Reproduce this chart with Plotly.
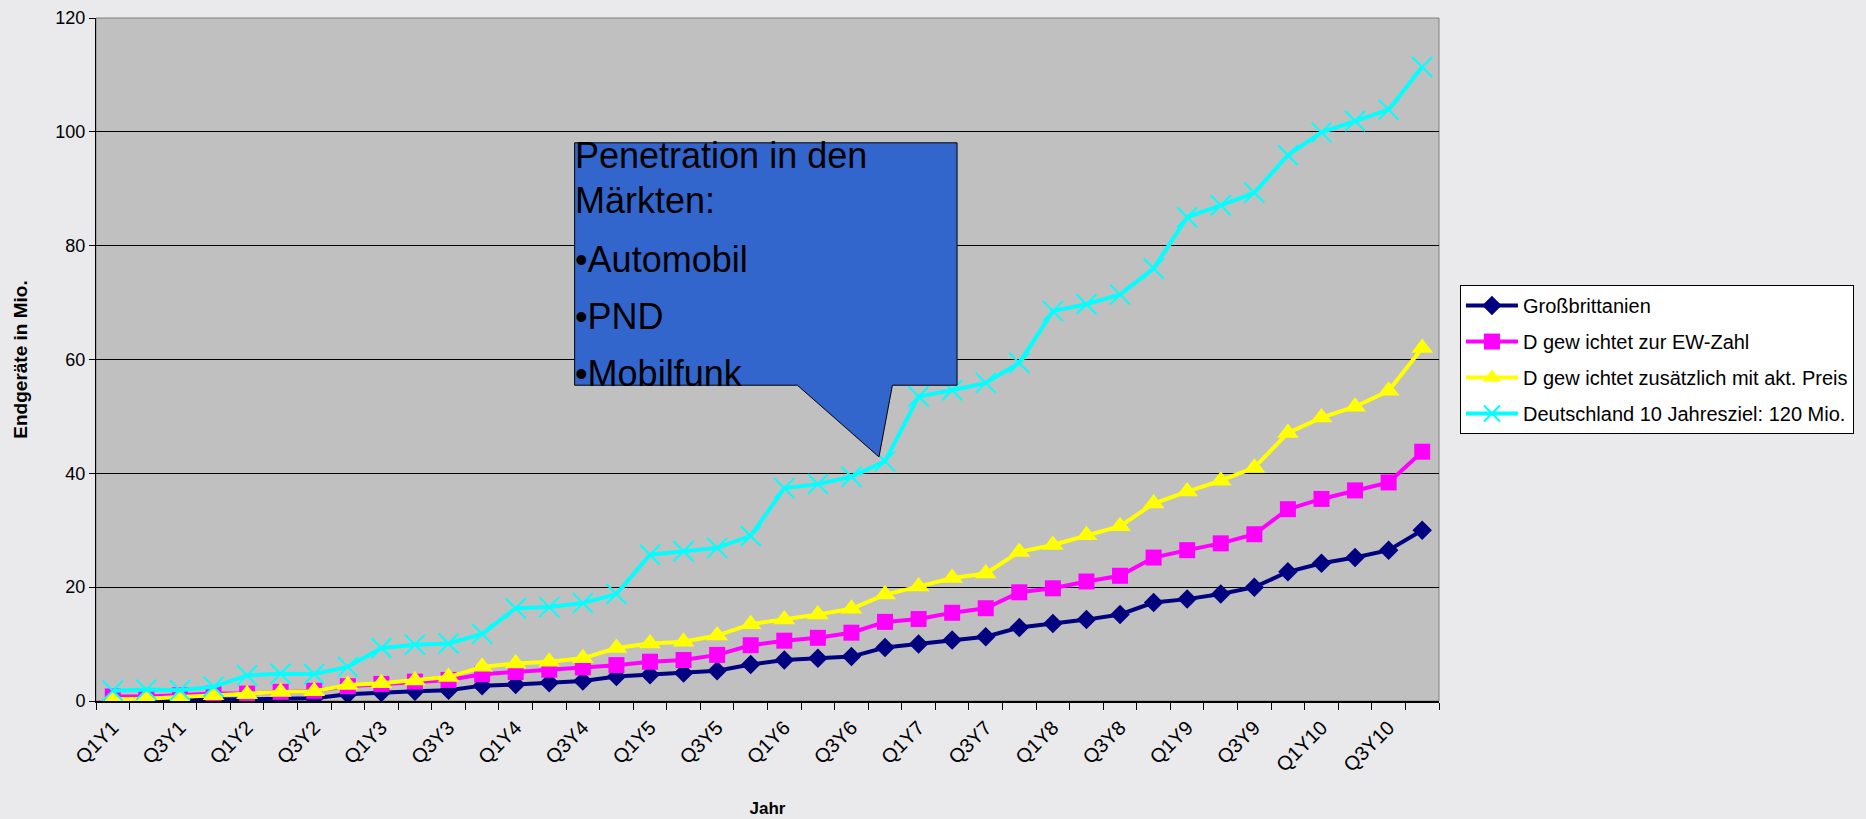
import plotly.graph_objects as go

quarters = [f"Q{q}Y{y}" for y in range(1, 11) for q in range(1, 5)]
tick_labels = [q if i % 2 == 0 else "" for i, q in enumerate(quarters)]

gb = [0.2, 0.2, 0.2, 0.3, 0.3, 0.4, 0.5, 1.2, 1.5, 1.7, 1.9, 2.7, 2.9, 3.2, 3.5, 4.3, 4.6, 4.9, 5.3, 6.4,
      7.2, 7.5, 7.8, 9.4, 10.0, 10.7, 11.3, 12.9, 13.6, 14.3, 15.2, 17.3, 17.9, 18.8, 20.0, 22.7, 24.2, 25.2, 26.5, 30.0]
d_ew = [0.8, 0.8, 1.0, 1.3, 1.3, 1.6, 1.8, 2.6, 3.0, 3.4, 3.7, 4.7, 5.1, 5.5, 5.9, 6.3, 6.9, 7.2, 8.1, 9.8,
        10.6, 11.1, 12.0, 13.9, 14.4, 15.5, 16.3, 19.1, 19.8, 21.0, 22.0, 25.2, 26.5, 27.7, 29.3, 33.7, 35.5, 37.0, 38.4, 43.8]
d_preis = [0.3, 0.4, 0.7, 1.0, 1.2, 1.6, 1.7, 2.8, 3.1, 3.6, 4.2, 6.0, 6.6, 6.9, 7.5, 9.3, 10.1, 10.4, 11.5, 13.5,
           14.3, 15.2, 16.2, 18.7, 20.1, 21.6, 22.4, 26.2, 27.4, 29.1, 30.7, 34.7, 36.8, 38.7, 41.0, 47.1, 49.8, 51.7, 54.5, 62.0]
de_ziel = [1.8, 2.0, 1.9, 2.5, 4.5, 4.8, 4.75, 6.0, 9.3, 9.9, 10.1, 11.8, 16.3, 16.5, 17.2, 18.8, 25.7, 26.3, 26.9, 29.0,
           37.4, 38.1, 39.4, 42.1, 53.5, 54.6, 55.9, 59.4, 68.5, 69.7, 71.4, 76.0, 85.0, 87.1, 89.3, 95.9, 99.9, 101.9, 103.9, 111.4]

series_names = ["Großbrittanien", "D gew ichtet zur EW-Zahl",
                "D gew ichtet zusätzlich mit akt. Preis", "Deutschland 10 Jahresziel: 120 Mio."]
callout_lines = ["Penetration in den", "Märkten:", "•Automobil", "•PND", "•Mobilfunk"]

FONT = "Liberation Sans, Arial, sans-serif"

fig = go.Figure()
styles = [
    dict(color="#000080", symbol="diamond", size=15),
    dict(color="#FF00FF", symbol="square", size=16),
    dict(color="#FFFF00", symbol="triangle-up", size=19),
    dict(color="#00FFFF", symbol="x-thin", size=20),
]
for name, vals, st in zip(series_names, [gb, d_ew, d_preis, de_ziel], styles):
    marker = dict(color=st["color"], symbol=st["symbol"], size=st["size"])
    if st["symbol"] == "x-thin":
        marker["line"] = dict(color=st["color"], width=2)
    else:
        marker["line"] = dict(width=0)
    fig.add_trace(go.Scatter(
        x=quarters, y=vals, name=name, mode="lines+markers",
        line=dict(color=st["color"], width=4), marker=marker,
        legendgroup=name,
    ))

# callout (wedge rectangle) in data coordinates
bx0, bx1, by0, by1 = 13.756, 25.146, 55.48, 98.07
wl, wr, tipx, tipy = 20.39, 23.22, 22.82, 42.88
path = (f"M {bx0},{by1} L {bx1},{by1} L {bx1},{by0} L {wr},{by0} L {tipx},{tipy} "
        f"L {wl},{by0} L {bx0},{by0} Z")
shapes = [
    dict(type="rect", xref="paper", yref="paper", x0=0, x1=1, y0=0, y1=1,
         line=dict(color="#808080", width=1), layer="below"),
    dict(type="path", path=path, xref="x", yref="y", fillcolor="#3366CC",
         line=dict(color="#000000", width=1), layer="above"),
]
line_y = [95.9, 88.0, 77.5, 67.5, 57.6]
annotations = []
for txt, yy in zip(callout_lines, line_y):
    annotations.append(dict(x=13.72, y=yy, xref="x", yref="y", text=txt, showarrow=False,
                            xanchor="left", yanchor="middle",
                            font=dict(family=FONT, size=36, color="#000000")))

fig.update_layout(
    width=1866, height=819,
    margin=dict(l=96, r=424, t=18, b=118),
    paper_bgcolor="#EAEAEC", plot_bgcolor="#C0C0C0",
    font=dict(family=FONT, color="#000000", size=18),
    shapes=shapes, annotations=annotations,
    legend=dict(x=1.0156, y=0.609, xanchor="left", yanchor="top",
                bgcolor="#FFFFFF", bordercolor="#000000", borderwidth=1,
                font=dict(family=FONT, size=20, color="#000000"),
                tracegroupgap=7, itemwidth=52),
    showlegend=True,
)
fig.update_xaxes(
    type="category", range=[-0.5, 39.5], tickmode="array", tickvals=quarters, ticktext=tick_labels,
    tickson="boundaries", ticks="outside", ticklen=7, tickcolor="#000000", tickangle=-45,
    ticklabelstandoff=5,
    showline=True, linecolor="#000000", linewidth=2, showgrid=False, automargin=False,
    tickfont=dict(family=FONT, size=20, color="#000000"),
    title=dict(text="<b>Jahr</b>", font=dict(family=FONT, size=17, color="#000000"), standoff=27),
)
fig.update_yaxes(
    range=[0, 120], dtick=20, tick0=0, showgrid=True, gridcolor="#000000", gridwidth=1,
    zeroline=False, showline=True, linecolor="#000000", linewidth=1, automargin=False,
    ticks="outside", ticklen=6, tickcolor="#000000",
    tickfont=dict(family=FONT, size=18, color="#000000"),
    title=dict(text="<b>Endgeräte in Mio.</b>", font=dict(family=FONT, size=19, color="#000000"), standoff=22),
)
fig.write_html("out.html", config={"displayModeBar": False},
               post_script="document.body.style.margin='0';document.body.style.padding='0';")
